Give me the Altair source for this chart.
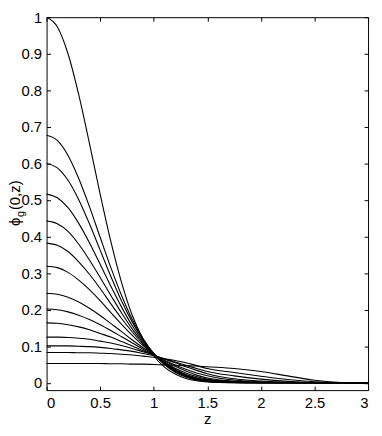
import altair as alt
import pandas as pd

# z grid shared by every curve
Z = [0, 0.1, 0.2, 0.3, 0.4, 0.5, 0.6, 0.7, 0.8, 0.9, 1.0, 1.1, 1.2, 1.3, 1.4, 1.5,
     1.75, 2.0, 2.25, 2.5, 2.75, 3.0]

# phi_g(0, z) curves
C1 = [1.000, 0.974, 0.900, 0.788, 0.655, 0.516, 0.386, 0.274, 0.184, 0.120, 0.074, 0.043, 0.024, 0.012, 0.0055, 0.0025, 0.0003, 0, 0, 0, 0, 0]
C2 = [0.677, 0.663, 0.622, 0.559, 0.482, 0.398, 0.315, 0.239, 0.173, 0.121, 0.080, 0.050, 0.029, 0.016, 0.0075, 0.0035, 0.0005, 0, 0, 0, 0, 0]
C3 = [0.600, 0.588, 0.554, 0.501, 0.435, 0.363, 0.291, 0.224, 0.166, 0.118, 0.080, 0.051, 0.031, 0.017, 0.0085, 0.004, 0.0007, 0.0001, 0, 0, 0, 0]
C4 = [0.516, 0.506, 0.479, 0.436, 0.383, 0.324, 0.264, 0.207, 0.156, 0.114, 0.080, 0.052, 0.032, 0.018, 0.0095, 0.0045, 0.0009, 0.0001, 0, 0, 0, 0]
C5 = [0.443, 0.435, 0.414, 0.379, 0.336, 0.288, 0.239, 0.191, 0.147, 0.110, 0.079, 0.053, 0.034, 0.020, 0.0105, 0.0055, 0.0012, 0.0002, 0, 0, 0, 0]
C6 = [0.382, 0.376, 0.359, 0.331, 0.297, 0.258, 0.216, 0.176, 0.139, 0.106, 0.079, 0.054, 0.035, 0.021, 0.012, 0.0065, 0.0016, 0.0003, 0, 0, 0, 0]
C7 = [0.319, 0.315, 0.302, 0.281, 0.255, 0.225, 0.192, 0.160, 0.130, 0.102, 0.078, 0.055, 0.037, 0.023, 0.014, 0.008, 0.0022, 0.0005, 0.0001, 0, 0, 0]
C8 = [0.245, 0.242, 0.234, 0.221, 0.204, 0.184, 0.162, 0.140, 0.117, 0.096, 0.0775, 0.057, 0.040, 0.027, 0.017, 0.010, 0.0032, 0.0008, 0.0002, 0, 0, 0]
C9 = [0.202, 0.200, 0.194, 0.185, 0.173, 0.159, 0.143, 0.126, 0.109, 0.092, 0.077, 0.060, 0.045, 0.032, 0.021, 0.013, 0.0045, 0.0013, 0.0003, 0, 0, 0]
C10 = [0.164, 0.163, 0.159, 0.153, 0.145, 0.135, 0.125, 0.113, 0.101, 0.088, 0.076, 0.062, 0.049, 0.037, 0.027, 0.0195, 0.0075, 0.0025, 0.0007, 0.0001, 0, 0]
C11 = [0.125, 0.125, 0.124, 0.122, 0.119, 0.114, 0.109, 0.102, 0.094, 0.085, 0.076, 0.065, 0.055, 0.044, 0.034, 0.025, 0.011, 0.005, 0.0015, 0.0003, 0, 0]
C12 = [0.101, 0.101, 0.101, 0.100, 0.099, 0.097, 0.094, 0.090, 0.086, 0.080, 0.074, 0.066, 0.057, 0.048, 0.039, 0.031, 0.019, 0.010, 0.004, 0.001, 0.0001, 0]
C13 = [0.083, 0.083, 0.083, 0.082, 0.082, 0.081, 0.080, 0.078, 0.076, 0.073, 0.070, 0.066, 0.061, 0.055, 0.047, 0.039, 0.028, 0.018, 0.009, 0.003, 0.0005, 0]
C14 = [0.053, 0.053, 0.053, 0.053, 0.053, 0.053, 0.052, 0.052, 0.051, 0.051, 0.050, 0.049, 0.048, 0.047, 0.046, 0.044, 0.039, 0.031, 0.019, 0.007, 0.001, 0]

CURVES = [C1, C2, C3, C4, C5, C6, C7, C8, C9, C10, C11, C12, C13, C14]

X_TICKS = [0, 0.5, 1, 1.5, 2, 2.5, 3]
Y_TICKS = [0, 0.1, 0.2, 0.3, 0.4, 0.5, 0.6, 0.7, 0.8, 0.9, 1]

rows = []
for k, c in enumerate(CURVES):
    for z, v in zip(Z, c):
        rows.append({"z": z, "v": v, "k": k})
df = pd.DataFrame(rows)

FONT = "Liberation Sans"
xs = alt.Scale(domain=[0, 3], nice=False, zero=False)
ys = alt.Scale(domain=[-0.02, 1.0], nice=False, zero=False)

lines = alt.Chart(df).mark_line(
    color="black", strokeWidth=1.1, interpolate="monotone"
).encode(
    x=alt.X("z:Q", scale=xs, axis=alt.Axis(
        values=X_TICKS, format="~g", title="z", orient="bottom", offset=-4,
        tickSize=4, labelPadding=6, domain=False, grid=False, titlePadding=1)),
    y=alt.Y("v:Q", scale=ys, axis=alt.Axis(
        values=Y_TICKS, format="~g", title="", orient="left", offset=-4,
        tickSize=4, labelPadding=5, domain=False, grid=False)),
    detail="k:N",
)

frame_ticks = alt.Chart(df).mark_line(strokeOpacity=0).encode(
    x=alt.X("z:Q", scale=xs, axis=alt.Axis(
        values=X_TICKS, labels=False, title="", orient="top", offset=-4,
        tickSize=4, domain=False, grid=False)),
    y=alt.Y("v:Q", scale=ys, axis=alt.Axis(
        values=Y_TICKS, labels=False, title="", orient="right", offset=-4,
        tickSize=4, domain=False, grid=False)),
    detail="k:N",
)

one = pd.DataFrame({"a": [0]})
t_phi = alt.Chart(one).mark_text(
    text="ϕ", angle=270, align="left", baseline="middle", fontSize=15,
    font=FONT, color="black"
).encode(x=alt.value(-32), y=alt.value(211))
t_g = alt.Chart(one).mark_text(
    text="g", angle=270, align="left", baseline="middle", fontSize=11,
    font=FONT, color="black"
).encode(x=alt.value(-26), y=alt.value(202))
t_rest = alt.Chart(one).mark_text(
    text="(0,z)", angle=270, align="left", baseline="middle", fontSize=15,
    font=FONT, color="black"
).encode(x=alt.value(-32), y=alt.value(195))

chart = alt.layer(frame_ticks, lines, t_phi, t_g, t_rest).resolve_scale(
    x="independent", y="independent"
).properties(
    width=325, height=377,
    autosize=alt.AutoSizeParams(type="none"),
    padding={"left": 39, "top": 7, "right": 6, "bottom": 36},
).configure_view(
    stroke="black", strokeWidth=1
).configure_axis(
    labelFont=FONT, titleFont=FONT, labelFontSize=15, titleFontSize=15,
    labelColor="black", titleColor="black", tickColor="black",
    titleFontWeight="normal", tickWidth=1
)

chart.save("out.html", embed_options={"renderer": "svg", "actions": False})
